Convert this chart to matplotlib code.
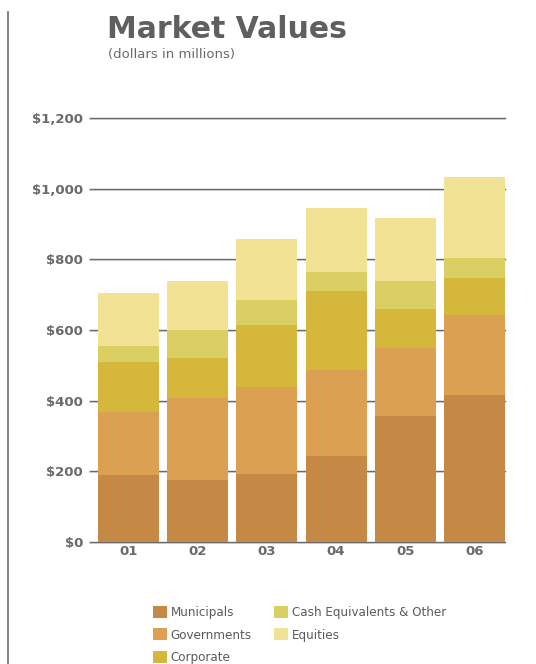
import matplotlib.pyplot as plt
import numpy as np
from matplotlib.patches import Patch
from matplotlib.lines import Line2D
from matplotlib import font_manager

# Market values by year, dollars in millions
years = ['01', '02', '03', '04', '05', '06']
municipals = [190, 175, 192, 243, 357, 416]
governments = [178, 233, 247, 244, 192, 227]
corporate = [141, 113, 175, 223, 111, 104]
cash_other = [46, 79, 71, 54, 79, 57]
equities = [150, 139, 173, 181, 178, 229]

series = [
    ('Municipals', municipals, '#C68945'),
    ('Governments', governments, '#DBA052'),
    ('Corporate', corporate, '#D5B73C'),
    ('Cash Equivalents & Other', cash_other, '#DBCE62'),
    ('Equities', equities, '#F2E394'),
]

W, H = 536, 664
fig = plt.figure(figsize=(W / 100, H / 100), dpi=100)
ax = fig.add_axes([90 / W, 1 - 542 / H, 415 / W, 424 / H])

x = np.arange(len(years))
bottom = np.zeros(len(years))
for name, vals, color in series:
    ax.bar(x, vals, width=0.88, bottom=bottom, color=color, label=name, zorder=3)
    bottom += np.array(vals)

ax.set_xlim(-0.556, 5.44)
ax.set_ylim(0, 1200)
yt = np.arange(0, 1201, 200)
ax.set_yticks(yt)
ax.set_yticklabels(['${:,.0f}'.format(v) for v in yt])
# grid lines: dark rule with a faint shadow just below
for v in yt:
    ax.axhline(v - 2.8, color='#d8d8d8', lw=1.2, zorder=1, clip_on=False)
    ax.axhline(v, color='#6a6a6a', lw=1.0, zorder=2, clip_on=False)

ax.set_xticks(x)
ax.set_xticklabels(years)
for s in ax.spines.values():
    s.set_visible(False)
ax.tick_params(axis='both', length=0, labelcolor='#6a6a6a')
ax.tick_params(axis='y', pad=5, labelsize=9.5)
ax.tick_params(axis='x', pad=2, labelsize=9.5)
for lbl in ax.get_xticklabels() + ax.get_yticklabels():
    lbl.set_fontweight('bold')

# vertical rule on the left
fig.add_artist(Line2D([8 / W, 8 / W], [0, 1 - 12 / H], color='#7a7a7a', lw=1.3))

fig.text(107 / W, 1 - 38 / H, 'Market Values', fontsize=21.5, fontweight='heavy',
         color='#5f5f5f', ha='left', va='baseline')
fig.text(108 / W, 1 - 58 / H, '(dollars in millions)', fontsize=9.5,
         color='#6a6a6a', ha='left', va='baseline')

legend_font = font_manager.FontProperties(family='DejaVu Sans', stretch='condensed', size=9.5)
handles = [Patch(facecolor=c, edgecolor='none') for _, _, c in series]
labels = [n for n, _, _ in series]
fig.legend(handles, labels, ncol=2, loc='upper left',
           bbox_to_anchor=(153 / W, 1 - 606 / H), frameon=False,
           handlelength=1.05, handleheight=1.0, handletextpad=0.3,
           columnspacing=1.7, labelspacing=0.68, borderaxespad=0, borderpad=0,
           prop=legend_font, labelcolor='#5a5a5a')

fig.savefig('out.png', dpi=100)
